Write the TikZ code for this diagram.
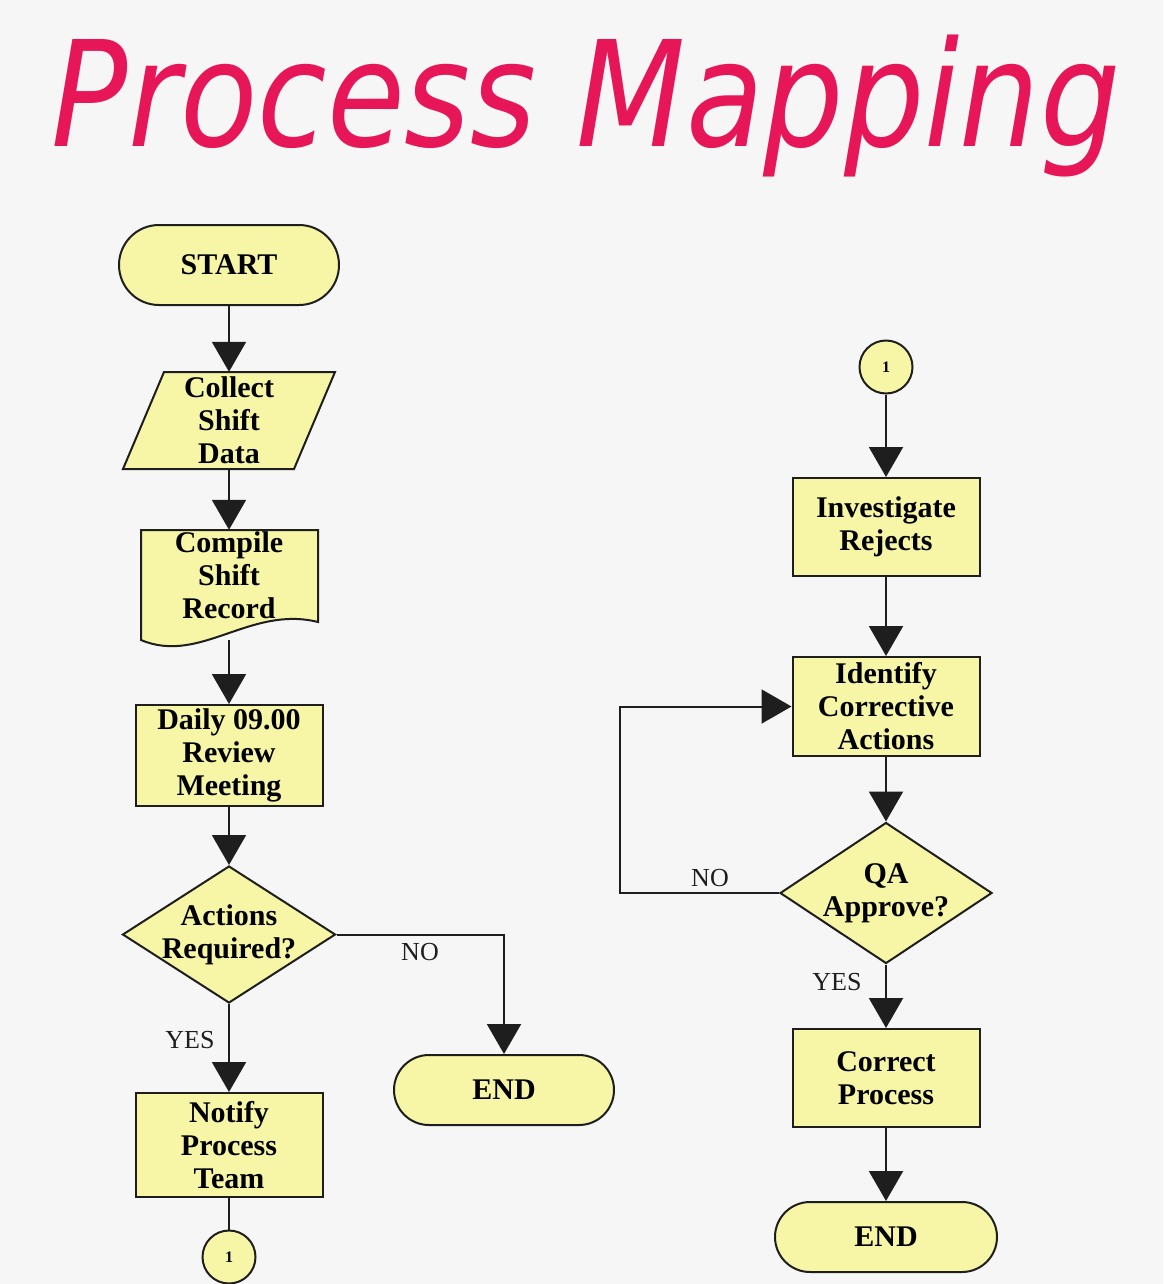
\documentclass[tikz,border=0pt]{standalone}
\usepackage{fontspec}
\setmainfont{Liberation Serif}
\newfontfamily\titlefont{DejaVu Sans Oblique}
\usetikzlibrary{arrows.meta,shapes.geometric}
\definecolor{bg}{RGB}{246,246,247}
\definecolor{boxfill}{RGB}{246,246,166}
\definecolor{ink}{RGB}{30,30,30}
\definecolor{titlered}{RGB}{230,22,88}
\begin{document}
\begin{tikzpicture}[x=1pt,y=-1pt,
 every node/.style={inner sep=2pt},
 boxstyle/.style={draw=ink, line width=2pt, fill=boxfill},
 bodyfont/.style={font=\bfseries\fontsize{30}{33}\selectfont, text=black},
 proc/.style={boxstyle, bodyfont, rectangle, minimum width=187pt, minimum height=100pt, align=center},
 term/.style={boxstyle, bodyfont, rounded corners=35pt, minimum width=220pt, minimum height=70pt},
 decision/.style={boxstyle, diamond, minimum width=213pt, minimum height=137pt, inner sep=0pt},
 dtext/.style={bodyfont, align=center, inner sep=0pt},
 ghost/.style={rectangle, inner sep=0pt, align=center, bodyfont},
 conn/.style={boxstyle, circle, minimum size=53pt, inner sep=0pt, font=\bfseries\fontsize{16}{16}\selectfont},
 flow/.style={draw=ink, line width=2pt, -{Triangle[width=34pt,length=30pt]}},
 plain/.style={draw=ink, line width=2pt},
 lab/.style={font=\fontsize{26}{28}\selectfont, text=ink, inner sep=0pt}
]
\fill[bg] (0,0) rectangle (1163,1284);
\useasboundingbox (0,0) rectangle (1163,1284);

% title
\node[text=titlered, inner sep=0pt] (title) at (586,106)
  {\resizebox*{1068pt}{142pt}{\titlefont Process Mapping}};

% ---------- left column ----------
\node[term, rounded corners=40pt, minimum height=80pt] (start) at (229,265) {START};

\draw[boxstyle] (164,372) -- (335,372) -- (294,469) -- (123,469) -- cycle;
\node[ghost, minimum width=212pt, minimum height=97pt] (collect) at (229,420.5) {Collect\\Shift\\Data};

\draw[boxstyle] (141,530) -- (318,530) -- (318,622)
  .. controls (250,605) and (200,665) .. (141,640) -- cycle;
\node[ghost, minimum width=177pt, minimum height=110pt,
  label={[ghost, name=compiletxt, yshift=10pt]center:Compile\\Shift\\Record}] (compile) at (229,585) {};

\node[proc, minimum height=101pt] (daily) at (229,755.5) {Daily 09.00\\Review\\Meeting};

\node[decision, label={[dtext, name=actionstxt]center:Actions\\Required?}] (actions) at (229,934.5) {};

\node[proc, minimum height=104pt] (notify) at (229,1145) {Notify\\Process\\Team};

\node[conn] (circ1) at (229,1257) {1};

\node[term] (end1) at (504,1090) {END};

% ---------- right column ----------
\node[conn] (circ2) at (886,367) {1};

\node[proc, minimum height=98pt] (invest) at (886,527) {Investigate\\Rejects};

\node[proc, minimum height=99pt] (identify) at (886,706.5) {Identify\\Corrective\\Actions};

\node[decision, minimum width=212pt, minimum height=141pt,
  label={[dtext, name=qatxt]center:QA\\Approve?}] (qa) at (886,893) {};

\node[proc, minimum height=98pt] (correct) at (886,1078) {Correct\\Process};

\node[term, minimum width=222pt] (end2) at (886,1237) {END};

% ---------- connectors ----------
\draw[flow] (start) -- (collect);
\draw[flow] (collect) -- (compile);
\draw[flow] (compile) -- (daily);
\draw[flow] (daily) -- (actions);
\draw[flow] (actions) -- (notify);
\draw[flow] (actions.east) -| (end1.north);
\draw[plain] (notify) -- (circ1);

\draw[flow] (circ2) -- (invest);
\draw[flow] (invest) -- (identify);
\draw[flow] (identify) -- (qa);
\draw[flow] (qa.west) -- ++(-159,0) |- (identify.west);
\draw[flow] (qa) -- (correct);
\draw[flow] (correct) -- (end2);

% ---------- labels ----------
\node[lab] (no1) at (420,952) {NO};
\node[lab] (yes1) at (190,1040) {YES};
\node[lab] (no2) at (710,878) {NO};
\node[lab] (yes2) at (837,982) {YES};
\end{tikzpicture}
\end{document}
